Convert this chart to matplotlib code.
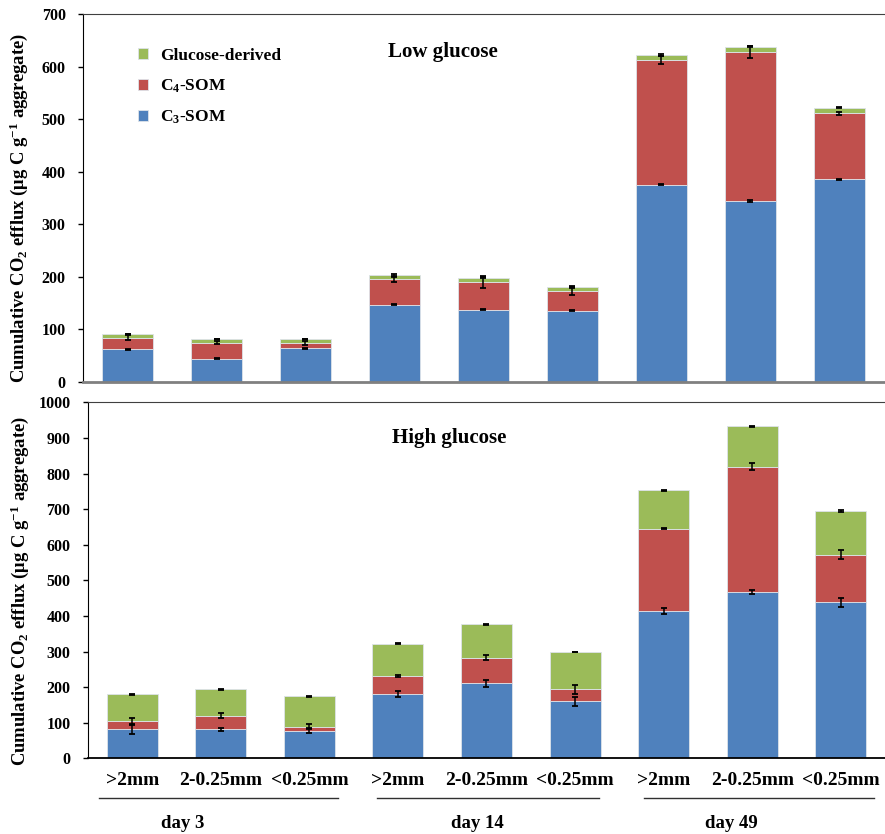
import numpy as np
import matplotlib.pyplot as plt

plt.rcParams['font.family'] = ['Liberation Serif', 'DejaVu Serif']
plt.rcParams['font.weight'] = 'bold'
plt.rcParams['mathtext.default'] = 'regular'

sizes = ['>2mm', '2-0.25mm', '<0.25mm'] * 3
days = ['day 3', 'day 14', 'day 49']
series_labels = ['C$_3$-SOM', 'C$_4$-SOM', 'Glucose-derived']

# low glucose (ug C g-1 aggregate), stacked segments
low_c3 = [62, 44, 64, 147, 137, 135, 375, 344, 385]
low_c4 = [22, 30, 10, 48, 53, 37, 237, 284, 126]
low_glc = [7, 7, 7, 9, 8, 9, 10, 10, 11]
low_c3_err = [1, 1, 1, 1, 1, 1, 1, 1, 1]
low_c4_err = [5.5, 3, 4, 5, 11, 6, 8, 12, 3]
low_glc_err = [0.5, 0.5, 0.5, 2, 0.5, 0.5, 2, 0.5, 1]

# high glucose
high_c3 = [81, 82, 78, 180, 211, 160, 413, 466, 438]
high_c4 = [24, 38, 11, 51, 72, 34, 232, 354, 134]
high_glc = [75, 74, 85, 91, 93, 105, 108, 113, 123]
high_c3_err = [12.7, 4, 6.5, 8.5, 9.4, 13, 8.5, 5.6, 12]
high_c4_err = [8.5, 7, 6.5, 3, 7, 12, 1.5, 11, 12.7]
high_glc_err = [1.5, 1.5, 1, 1, 1.5, 1, 1.5, 1.5, 1.5]

colors = ['#4F81BD', '#C0504D', '#9BBB59']


def draw_panel(ax, parts, errs, title, ymax, title_xy):
    x = np.arange(len(parts[0]))
    bottom = np.zeros(len(x))
    bars = []
    for vals, col, lab in zip(parts, colors, series_labels):
        b = ax.bar(x, vals, 0.575, bottom=bottom, color=col, edgecolor='#dde3ea',
                   linewidth=0.6, label=lab, zorder=2)
        bars.append(b)
        bottom = bottom + np.array(vals)
    tops = np.cumsum(np.array(parts), axis=0)
    for t, e in zip(tops, errs):
        ax.errorbar(x, t, yerr=e, fmt='none', ecolor='black', elinewidth=1.1,
                    capsize=2.4, capthick=1.3, zorder=3)
    ax.set_xlim(-0.5, len(x) - 0.5)
    ax.set_ylim(0, ymax)
    ax.set_yticks(np.arange(0, ymax + 1, 100))
    ax.tick_params(axis='y', direction='out', length=3.5, width=1, pad=9, labelsize=11.5)
    ax.tick_params(axis='x', length=0)
    ax.spines['right'].set_visible(False)
    ax.spines['left'].set_color('black')
    ax.spines['top'].set_color('#404040')
    ax.text(title_xy[0], title_xy[1], title, transform=ax.transAxes, ha='center',
            va='center', fontsize=15, fontweight='bold')
    ax.set_ylabel('Cumulative CO$_2$ efflux (\u03bcg C g$^{-1}$ aggregate)',
                  fontsize=13.4, fontweight='bold')
    return bars


fig = plt.figure(figsize=(8.85, 8.34), dpi=100)

ax1 = fig.add_axes([0.0938, 0.5423, 0.905, 0.4409])
bars = draw_panel(ax1, [low_c3, low_c4, low_glc], [low_c3_err, low_c4_err, low_glc_err],
                  'Low glucose', 700, (0.449, 0.897))
ax1.set_xticks([])
ax1.spines['bottom'].set_color('#808080')
ax1.spines['bottom'].set_linewidth(2)
ax1.yaxis.set_label_coords(-0.066, 0.472)
ax1.legend(bars[::-1], series_labels[::-1], loc='upper left', bbox_to_anchor=(0.049, 0.95),
           frameon=False, fontsize=12.5, handlelength=0.6, handleheight=0.6,
           handletextpad=0.7, labelspacing=0.78)

ax2 = fig.add_axes([0.0994, 0.0908, 0.9006, 0.4266])
draw_panel(ax2, [high_c3, high_c4, high_glc], [high_c3_err, high_c4_err, high_glc_err],
           'High glucose', 1000, (0.4526, 0.90))
ax2.set_xticks(np.arange(len(sizes)))
ax2.set_xticklabels(sizes, fontsize=14, fontweight='bold')
ax2.tick_params(axis='x', pad=10)
ax2.spines['bottom'].set_linewidth(1.3)
ax2.yaxis.set_label_coords(-0.072, 0.47)

# group lines and day labels under the size classes
group_lines = [(-0.38, 2.32), (2.76, 5.27), (5.78, 8.38)]
day_x = [0.57, 3.90, 6.77]
tr = ax2.get_xaxis_transform()
for (x0, x1), dx, lab in zip(group_lines, day_x, days):
    ax2.plot([x0, x1], [-0.112, -0.112], color='#303030', lw=1, transform=tr, clip_on=False)
    ax2.text(dx, -0.182, lab, transform=tr, ha='center', va='center', fontsize=13.5,
             fontweight='bold')

fig.savefig('out.png', dpi=100)
